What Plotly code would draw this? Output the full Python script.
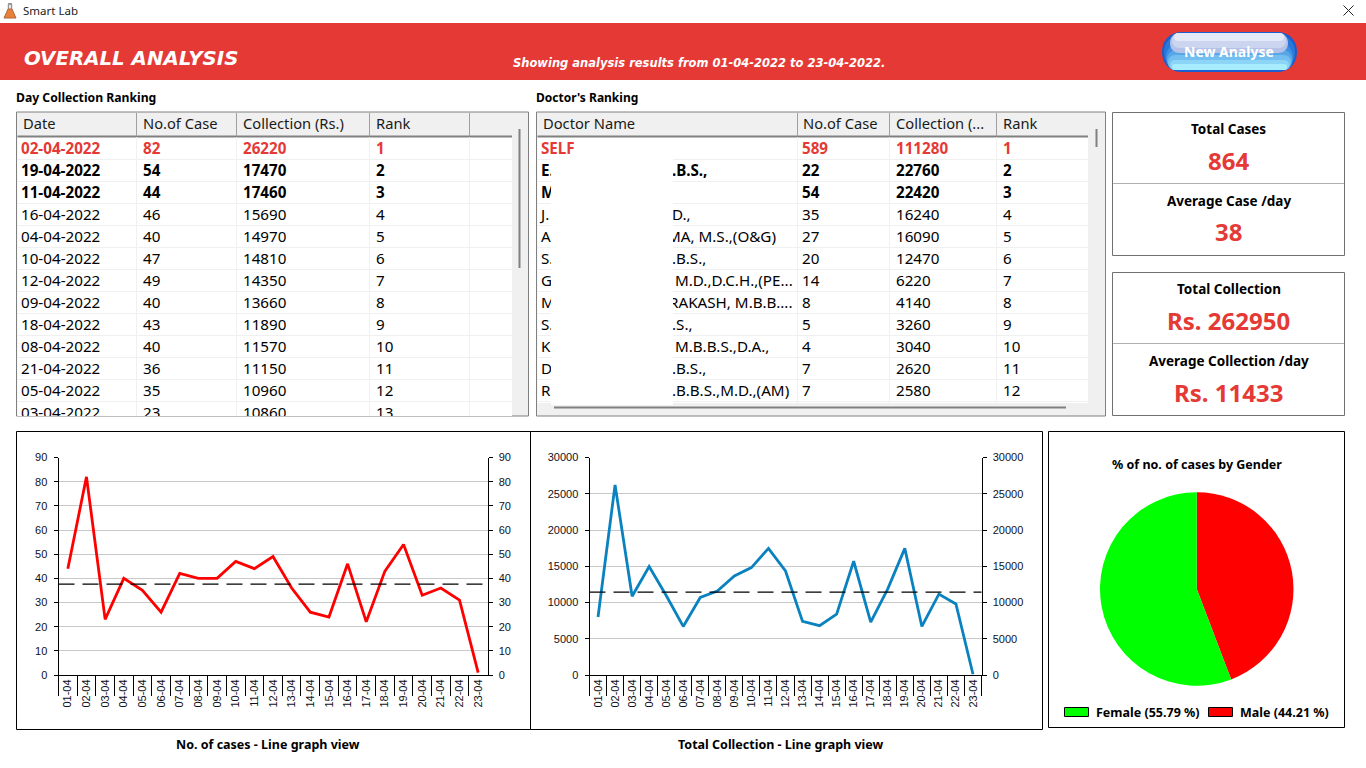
import plotly.graph_objects as go

# chart values
days = ["01-04", "02-04", "03-04", "04-04", "05-04", "06-04", "07-04", "08-04", "09-04", "10-04", "11-04", "12-04",
        "13-04", "14-04", "15-04", "16-04", "17-04", "18-04", "19-04", "20-04", "21-04", "22-04", "23-04"]
cases = [44, 82, 23, 40, 35, 26, 42, 40, 40, 47, 44, 49, 36, 26, 24, 46, 22, 43, 54, 33, 36, 31, 1]
collection = [8000, 26220, 10860, 14970, 10960, 6700, 10700, 11570, 13660, 14810, 17460, 14350,
              7400, 6800, 8400, 15690, 7300, 11890, 17470, 6700, 11150, 9800, 100]
avg_cases = 37.57
avg_collection = 11433
gender_labels = ["Male", "Female"]
gender_values = [44.21, 55.79]

# day ranking table
day_dates = ["02-04-2022", "19-04-2022", "11-04-2022", "16-04-2022", "04-04-2022", "10-04-2022", "12-04-2022",
             "09-04-2022", "18-04-2022", "08-04-2022", "21-04-2022", "05-04-2022", "03-04-2022"]
day_cases = [82, 54, 44, 46, 40, 47, 49, 40, 43, 40, 36, 35, 23]
day_collection = [26220, 17470, 17460, 15690, 14970, 14810, 14350, 13660, 11890, 11570, 11150, 10960, 10860]
day_rank = [1, 2, 3, 4, 5, 6, 7, 8, 9, 10, 11, 12, 13]

# doctor ranking table, the middle of each name is blanked out in the screenshot
doc_start = ["SELF", "E.", "M", "J.", "A", "S.", "G", "M", "S.", "K", "D", "R"]
doc_end = ["", ".B.S.,", "", "D.,", "MA, M.S.,(O&G)", ".B.S.,", "M.D.,D.C.H.,(PE...", "RAKASH, M.B.B....",
           ".S.,", "M.B.B.S.,D.A.,", ".B.S.,", ".B.B.S.,M.D.,(AM)"]
doc_cases = [589, 22, 54, 35, 27, 20, 14, 8, 5, 4, 7, 7]
doc_collection = [111280, 22760, 22420, 16240, 16090, 12470, 6220, 4140, 3260, 3040, 2620, 2580]
doc_rank = [1, 2, 3, 4, 5, 6, 7, 8, 9, 10, 11, 12]

W, H = 1366, 768
RED = "#e53935"
UI_FONT = "Noto Sans"


def px(x):
    return x / W


def py(y):
    return 1 - y / H


shapes = []
annotations = []


def rect(x0, y0, x1, y1, fill="rgba(0,0,0,0)", line=None, layer="below", width=1):
    shapes.append(dict(type="rect", xref="paper", yref="paper", x0=px(x0), x1=px(x1), y0=py(y0), y1=py(y1),
                       fillcolor=fill, line=dict(color=line or "rgba(0,0,0,0)", width=width if line else 0),
                       layer=layer))


def seg(x0, y0, x1, y1, color, width=1, layer="below"):
    shapes.append(dict(type="line", xref="paper", yref="paper", x0=px(x0), x1=px(x1), y0=py(y0), y1=py(y1),
                       line=dict(color=color, width=width), layer=layer))


def pill(x0, y0, x1, y1, fill):
    r = (y1 - y0) / 2
    path = (f"M {px(x0 + r)} {py(y0)} L {px(x1 - r)} {py(y0)} "
            f"C {px(x1 - r * 0.4)} {py(y0)} {px(x1)} {py(y0 + r * 0.4)} {px(x1)} {py(y0 + r)} "
            f"C {px(x1)} {py(y1 - r * 0.4)} {px(x1 - r * 0.4)} {py(y1)} {px(x1 - r)} {py(y1)} "
            f"L {px(x0 + r)} {py(y1)} "
            f"C {px(x0 + r * 0.4)} {py(y1)} {px(x0)} {py(y1 - r * 0.4)} {px(x0)} {py(y0 + r)} "
            f"C {px(x0)} {py(y0 + r * 0.4)} {px(x0 + r * 0.4)} {py(y0)} {px(x0 + r)} {py(y0)} Z")
    shapes.append(dict(type="path", xref="paper", yref="paper", path=path, fillcolor=fill, line=dict(width=0),
                       layer="below"))


def label(x, y, text, size=13, color="#000000", bold=False, anchor="left", family=UI_FONT, italic=False):
    if bold:
        text = f"<b>{text}</b>"
    if italic:
        text = f"<i>{text}</i>"
    annotations.append(dict(xref="paper", yref="paper", x=px(x), y=py(y), text=text, showarrow=False,
                            xanchor=anchor, yanchor="middle", borderpad=0, borderwidth=0,
                            font=dict(family=family, size=size, color=color)))


# window chrome
rect(0, 23, W, 80, fill=RED)
label(23, 11, "Smart Lab", size=11.5, color="#222222")
seg(1343.5, 5.5, 1353.5, 15.5, "#222222")
seg(1343.5, 15.5, 1353.5, 5.5, "#222222")
seg(8, 4, 12, 4, "#777777", 1.5)
seg(8.5, 4, 8.5, 9, "#999999", 1.5)
seg(11.5, 4, 11.5, 9, "#999999", 1.5)
shapes.append(dict(type="path", xref="paper", yref="paper", fillcolor="#e8803a", line=dict(color="#b0683a", width=1),
                   layer="below",
                   path=f"M {px(8)} {py(9)} L {px(12)} {py(9)} L {px(16)} {py(18)} L {px(4)} {py(18)} Z"))
label(24, 59, "OVERALL ANALYSIS", size=19.8, color="#ffffff", bold=True, italic=True, family="DejaVu Sans")
label(698.5, 63, "Showing analysis results from 01-04-2022 to 23-04-2022.", size=11.5, color="#ffffff", bold=True,
      italic=True, anchor="center", family="DejaVu Sans")

# New Analyse button
pill(1162, 32, 1297, 72, "#1a5fd0")
pill(1164, 35, 1295, 70, "#2a78da")
pill(1166, 44, 1293, 70, "#3f90e2")
pill(1167, 50, 1292, 70, "#58a8e9")
pill(1168, 55, 1291, 70, "#72bff0")
pill(1170, 60, 1289, 70, "#8dd5f6")
pill(1172, 64, 1287, 70, "#a8ecff")
pill(1170, 33, 1288, 53, "#b4c2e8")
pill(1172, 33, 1286, 48, "#cbd5f0")
pill(1174, 33, 1284, 41, "#e4e9f7")
label(1229, 51.5, "New Analyse", size=14, color="#ffffff", bold=True, anchor="center")

label(16, 97, "Day Collection Ranking", size=12.2, bold=True)
label(536, 97, "Doctor's Ranking", size=12, bold=True)
label(268, 744, "No. of cases - Line graph view", size=12.5, bold=True, anchor="center")
label(780, 744, "Total Collection - Line graph view", size=12.5, bold=True, anchor="center")


def table_chrome(x0, x1, gutter_x, gutter_y, col_edges, headers, text_x):
    rect(x0, 112, x1, 416, fill="#f0f0f0", line="#808080")
    rect(x0 + 1, 137, gutter_x, gutter_y, fill="#ffffff")
    rect(x0 + 1, 113, gutter_x, 136, fill="#f0f0f0")
    seg(x0 + 1, 136.5, gutter_x, 136.5, "#808080", 2)
    for i in range(1, 14):
        y = 137 + 22 * i + 0.5
        if y < gutter_y:
            seg(x0 + 1, y, gutter_x, y, "#f0f0f0")
    for e in col_edges:
        seg(e + 0.5, 137, e + 0.5, gutter_y, "#f0f0f0")
        seg(e + 0.5, 113, e + 0.5, 136, "#a0a0a0", 1)
    for h, tx in zip(headers, text_x):
        label(tx, 123.5, h, size=14.7, color="#1a1a1a")


table_chrome(16.5, 528.5, 512, 416, [136, 236, 369, 469],
             ["Date", "No.of Case", "Collection (Rs.)", "Rank"], [23, 143, 243, 376])
seg(519.5, 129, 519.5, 268, "#808080", 2)

table_chrome(536.5, 1105.5, 1088, 403, [797, 889, 996],
             ["Doctor Name", "No.of Case", "Collection (...", "Rank"], [543, 803, 896, 1003])
seg(1096.5, 129, 1096.5, 147, "#808080", 2)
seg(554, 407.5, 1066, 407.5, "#808080", 2)
# blanked out part of the doctor names, this one sits above the text
rect(551, 159, 673, 405, fill="#ffffff", layer="above")

# summary cards
for top, title_a, value_a, title_b, value_b in [(112, "Total Cases", "864", "Average Case /day", "38"),
                                                (272, "Total Collection", "Rs. 262950", "Average Collection /day",
                                                 "Rs. 11433")]:
    rect(1112.5, top + 0.5, 1344.5, top + 143.5, line="#707070")
    seg(1113, top + 71.5, 1344, top + 71.5, "#b0b0b0")
    label(1228.5, top + 17, title_a, size=13.5, bold=True, anchor="center")
    label(1228.5, top + 48, value_a, size=24, color=RED, bold=True, anchor="center")
    label(1228.5, top + 89, title_b, size=13.5, bold=True, anchor="center")
    label(1228.5, top + 120, value_b, size=24, color=RED, bold=True, anchor="center")

# chart frames
rect(16.5, 431.5, 530.5, 729.5, line="#000000")
rect(530.5, 431.5, 1042.5, 729.5, line="#000000")
rect(1048.5, 431.5, 1344.5, 727.5, line="#000000")

# pie legend
label(1196.5, 464, "% of no. of cases by Gender", size=12.5, bold=True, anchor="center")
rect(1064.5, 707.5, 1088.5, 716.5, fill="#00ff00", line="#000000")
label(1096, 712, "Female (55.79 %)", size=12.5, bold=True)
rect(1208.5, 707.5, 1232.5, 716.5, fill="#ff0000", line="#000000")
label(1240, 712, "Male (44.21 %)", size=12.5, bold=True)

fig = go.Figure()


def line_chart(n, values, color, avg, x0, x1, y_max, step):
    xn = "x" if n == 1 else f"x{n}"
    yl, yr = (1, 2) if n == 1 else (3, 4)
    yln = "y" if yl == 1 else f"y{yl}"
    fig.add_trace(go.Scatter(x=days, y=values, mode="lines", line=dict(color=color, width=2.8), xaxis=xn, yaxis=yln,
                             hoverinfo="skip", showlegend=False, cliponaxis=False))
    fig.add_trace(go.Scatter(x=days, y=values, mode="lines", line=dict(color="rgba(0,0,0,0)", width=0), xaxis=xn,
                             yaxis=f"y{yr}", hoverinfo="skip", showlegend=False))
    ticks = list(range(0, y_max + 1, step))
    base = dict(range=[0, y_max], tickvals=ticks, tickformat="d", ticks="outside", ticklen=4, tickcolor="#000000",
                showline=True, linecolor="#000000", linewidth=1, zeroline=False, automargin=False,
                tickfont=dict(family="Liberation Sans", size=11, color="#101020"),
                domain=[py(675), py(457.5)], ticklabelstandoff=4)
    fig.update_layout({
        ("xaxis" if n == 1 else f"xaxis{n}"): dict(
            type="category", categoryorder="array", categoryarray=days, range=[-0.5, 22.5], automargin=False,
            domain=[px(x0), px(x1)], anchor=yln, tickson="boundaries", ticks="outside", ticklen=20,
            tickcolor="#000000", showline=True, linecolor="#000000", showgrid=False, tickangle=-90,
            ticklabelstandoff=-1, tickfont=dict(family="Liberation Sans", size=11, color="#101020")),
        ("yaxis" if yl == 1 else f"yaxis{yl}"): dict(base, anchor=xn, side="left", showgrid=True,
                                                     gridcolor="#c8c8c8", gridwidth=1),
        f"yaxis{yr}": dict(base, anchor=xn, side="right", overlaying=yln, showgrid=False),
    })
    shapes.append(dict(type="line", xref=f"{xn} domain", yref=yln, x0=0, x1=1, y0=avg, y1=avg,
                       line=dict(color="#000000", width=1.2, dash="16px,8px"), layer="above"))


line_chart(1, cases, "#ff0000", avg_cases, 58.5, 487.5, 90, 10)
line_chart(2, collection, "#0a82c0", avg_collection, 589.5, 981.5, 30000, 5000)

fig.add_trace(go.Pie(labels=gender_labels, values=gender_values, sort=False, direction="clockwise", rotation=0,
                     marker=dict(colors=["#ff0000", "#00ff00"], line=dict(width=0)), textinfo="none",
                     hoverinfo="skip", showlegend=False,
                     domain=dict(x=[px(1100), px(1293.5)], y=[py(686), py(492)])))


def table_axes(n, x0, x1, y0, y1):
    # pixel wide x axis and one unit per row on y, so text is clipped at the visible edge of the list
    row0 = 150  # pixel height of the first row's text
    fig.update_layout({
        f"xaxis{n}": dict(domain=[px(x0), px(x1)], range=[x0, x1], visible=False, anchor=f"y{n + 2}",
                          automargin=False),
        f"yaxis{n + 2}": dict(domain=[py(y1), py(y0)], range=[(y1 - row0) / 22, (y0 - row0) / 22], visible=False,
                              anchor=f"x{n}", automargin=False),
    })


def table_column(n, x, values, size=15.2):
    rows = list(range(len(values)))
    text = [f"<b>{v}</b>" if i < 3 and v != "" else str(v) for i, v in enumerate(values)]
    colors = [RED if i == 0 else "#000000" for i in rows]
    fig.add_trace(go.Scatter(x=[x] * len(values), y=rows, mode="text", text=text, textposition="middle right",
                             textfont=dict(family=UI_FONT, size=size, color=colors), xaxis=f"x{n}",
                             yaxis=f"y{n + 2}", hoverinfo="skip", showlegend=False))


table_axes(3, 17, 512, 137, 416)
for x, col in zip([21, 143, 243, 376], [day_dates, day_cases, day_collection, day_rank]):
    table_column(3, x, col)

table_axes(4, 537, 1088, 137, 403)
for x, col in zip([541, 802, 896, 1003], [doc_start, doc_cases, doc_collection, doc_rank]):
    table_column(4, x, col)
# end of the names, each one starts behind the blank block
fig.add_trace(go.Scatter(x=[672, 672, 672, 672, 667, 672, 675, 669, 672, 675, 672, 672], y=list(range(12)),
                         mode="text", text=[f"<b>{v}</b>" if i < 3 else v for i, v in enumerate(doc_end)],
                         textposition="middle right", textfont=dict(family=UI_FONT, size=15.2, color="#000000"),
                         xaxis="x4", yaxis="y6", hoverinfo="skip", showlegend=False))

fig.update_layout(template="none", width=W, height=H, margin=dict(l=0, r=0, t=0, b=0), paper_bgcolor="#ffffff",
                  plot_bgcolor="rgba(0,0,0,0)", shapes=shapes, annotations=annotations, showlegend=False,
                  hovermode=False, dragmode=False)

fig.write_html("out.html", config=dict(displayModeBar=False),
               post_script="document.body.style.margin='0';document.body.style.overflow='hidden';")
